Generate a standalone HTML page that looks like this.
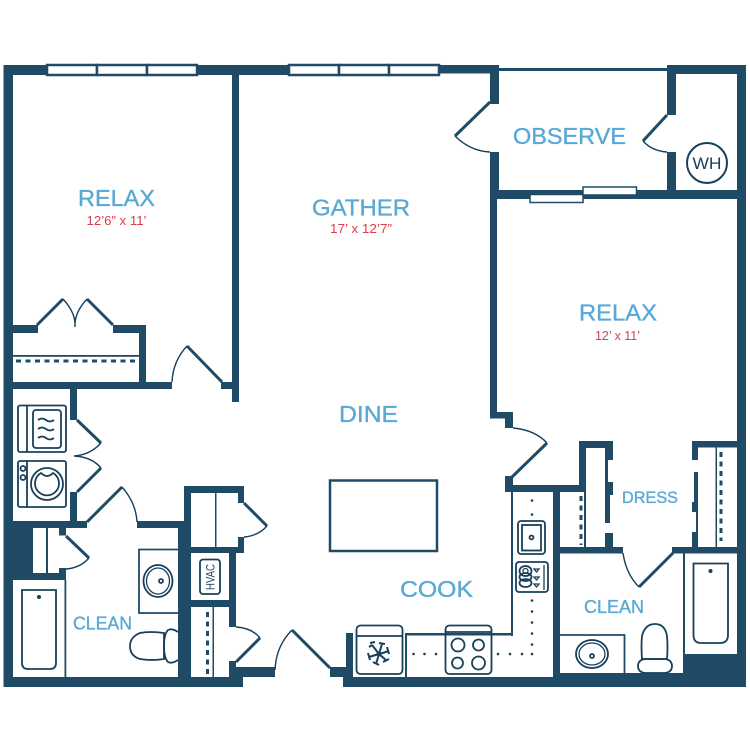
<!DOCTYPE html>
<html><head><meta charset="utf-8"><style>
html,body{margin:0;padding:0;background:#fff}
svg{display:block}
text{font-family:"Liberation Sans",sans-serif}
.w{fill:#1f4b66}
.t{fill:none;stroke:#17405a;stroke-width:1.4}
.f{fill:none;stroke:#17405a;stroke-width:1.8}
.leaf{fill:none;stroke:#1f4b66;stroke-width:3}
.b{fill:#58a9d6;font-size:23px;stroke:#58a9d6;stroke-width:.35}
.r{fill:#d5404f;font-size:13px}
.d{fill:#17405a}
</style></head><body>
<svg width="750" height="750" viewBox="0 0 750 750" xmlns="http://www.w3.org/2000/svg">
<rect width="750" height="750" fill="#fff"/>
<g class="w">
<!-- outer -->
<rect x="3.5" y="65" width="9.5" height="622"/>
<rect x="3.5" y="65" width="43" height="10"/>
<rect x="197" y="65" width="91" height="10"/>
<rect x="439" y="65" width="60" height="8.5"/>
<rect x="499" y="68" width="168" height="3"/>
<rect x="667" y="65" width="79" height="9"/>
<rect x="737" y="65" width="9" height="622"/>
<rect x="3.5" y="677" width="239.500" height="10"/>
<rect x="343" y="677" width="403" height="10"/>
<!-- bedroom 1 -->
<rect x="232" y="65" width="7" height="337"/>
<rect x="13" y="325" width="25" height="8"/>
<rect x="113" y="325" width="33" height="8"/>
<rect x="139" y="325" width="7" height="60"/>
<rect x="13" y="382" width="159" height="7"/>
<rect x="221" y="382" width="18" height="7"/>
<rect x="13" y="355" width="126" height="1.800"/>
<!-- laundry -->
<rect x="70" y="388" width="7" height="32"/>
<rect x="70" y="492" width="7" height="30"/>
<rect x="13" y="521" width="74" height="7"/>
<rect x="137" y="521" width="48" height="7"/>
<rect x="184" y="486" width="7" height="40"/>
<rect x="178" y="521" width="13" height="160"/>
<!-- bath 1 -->
<rect x="13" y="528" width="20" height="45"/>
<rect x="46" y="528" width="2" height="45"/>
<rect x="59" y="528" width="7" height="7.500"/>
<rect x="13" y="573" width="53" height="7"/>
<rect x="59" y="568" width="7" height="6"/>
<rect x="64.500" y="580" width="1.800" height="98"/>
<!-- closets -->
<rect x="184" y="486" width="60" height="7"/>
<rect x="238" y="486" width="6" height="17"/>
<rect x="238" y="537" width="6" height="16"/>
<rect x="184" y="547" width="60" height="6"/>
<rect x="215" y="493" width="1.500" height="54"/>
<rect x="229" y="553" width="7" height="74"/>
<rect x="191" y="600" width="45" height="7"/>
<rect x="212.500" y="607" width="1.500" height="70"/>
<rect x="229" y="661" width="7" height="16"/>
<rect x="229" y="667" width="46" height="10"/>
<rect x="330" y="667" width="23" height="10"/>
<rect x="346" y="633" width="7" height="44"/>
<!-- observe -->
<rect x="490" y="65" width="9" height="39"/>
<rect x="490" y="152" width="9" height="47"/>
<rect x="667" y="65" width="9" height="50"/>
<rect x="667" y="152" width="9" height="40"/>
<rect x="490" y="190" width="256" height="9"/>
<!-- bedroom 2 -->
<rect x="490" y="190" width="7" height="228"/>
<rect x="490" y="412" width="23" height="6.500"/>
<rect x="505" y="412" width="8" height="16"/>
<rect x="505" y="476" width="8" height="16"/>
<rect x="505" y="485" width="81" height="7"/>
<rect x="553" y="485" width="7" height="195"/>
<!-- kitchen -->
<rect x="511" y="490" width="2" height="146"/>
<rect x="405" y="633" width="108" height="2.500"/>
<rect x="405" y="633" width="2" height="45"/>
<!-- dress -->
<rect x="579" y="441" width="7" height="51"/>
<rect x="584" y="490" width="2" height="58"/>
<rect x="579" y="441" width="34" height="7"/>
<rect x="605" y="441" width="8" height="19"/>
<rect x="605" y="460" width="3" height="22"/>
<rect x="605" y="482" width="8" height="13"/>
<rect x="605" y="495" width="5" height="28"/>
<rect x="605" y="533" width="8" height="15"/>
<rect x="558" y="547" width="65" height="6.500"/>
<rect x="672" y="547" width="65" height="6.500"/>
<rect x="692" y="441" width="45" height="6.500"/>
<rect x="692" y="441" width="6" height="19"/>
<rect x="694" y="472" width="4" height="30"/>
<rect x="692" y="502" width="6" height="10"/>
<rect x="696" y="512" width="2" height="20"/>
<rect x="692" y="532" width="6" height="16"/>
<rect x="715.500" y="447" width="1.500" height="100"/>
<!-- bath 2 -->
<rect x="683" y="553" width="2" height="120"/>
<rect x="684" y="654" width="53" height="20"/>
<rect x="553" y="673" width="193" height="14"/>
</g>

<!-- windows -->
<g fill="#fff" stroke="#1f4b66" stroke-width="2.500">
<rect x="47" y="65" width="50" height="10"/><rect x="97" y="65" width="50" height="10"/><rect x="147" y="65" width="50" height="10"/>
<rect x="289" y="65" width="50" height="10"/><rect x="339" y="65" width="50" height="10"/><rect x="389" y="65" width="50" height="10"/>
</g>
<g fill="#fff" stroke="#1f4b66" stroke-width="1.500">
<rect x="530" y="194.500" width="53" height="8"/>
<rect x="583" y="187" width="53.500" height="8"/>
</g>

<!-- door leaves -->
<g class="leaf">
<path d="M37 325L63 299M113 325L87 299"/>
<path d="M187 346L222 382"/>
<path d="M77 420L101 443M101 468L77 492"/>
<path d="M87 522L122 487"/>
<path d="M66 536L89 558"/>
<path d="M244 503L267 526"/>
<path d="M260 638L236 662"/>
<path d="M292 630L330 668"/>
<path d="M490 102L455 136"/>
<path d="M667 115L643 141"/>
<path d="M547 443L512 477"/>
<path d="M639 587L673 553"/>
</g>
<!-- arcs -->
<g class="t">
<path d="M63 299Q76 313 75 327M87 299Q74 313 75 327"/>
<path d="M172 382Q173 361 187 346"/>
<path d="M101 443Q90 455 74 456M74 456Q92 457 101 468"/>
<path d="M122 487Q136 503 137 522"/>
<path d="M89 558Q80 568 66 569"/>
<path d="M267 526Q258 536 244 537"/>
<path d="M236 627Q252 628 260 638"/>
<path d="M275 670Q276 646 292 630"/>
<path d="M455 136Q470 151 490 152"/>
<path d="M643 141Q652 151 667 152"/>
<path d="M513 428Q535 430 547 443"/>
<path d="M623 553Q626 574 639 587"/>
</g>

<!-- closet rods -->
<g fill="none" stroke="#1f4b66" stroke-width="3" stroke-dasharray="5 4.500">
<path d="M16 361H137"/>
<path d="M207.500 612V676"/>
<path d="M581 496V545"/>
<path d="M721 452V541"/>
</g>

<!-- island -->
<rect x="330" y="480.500" width="107" height="70.500" fill="none" stroke="#1f4b66" stroke-width="2.500"/>

<!-- dryer -->
<g class="f">
<rect x="18" y="405.500" width="48" height="46.500" rx="2"/>
<path d="M27 405.500V452"/>
<rect x="33" y="410" width="28" height="38" rx="3"/>
</g>
<g class="f">
<path d="M38 420q4-3 8 0t8 0M38 429q4-3 8 0t8 0M38 438q4-3 8 0t8 0"/>
</g>
<!-- washer -->
<g class="f">
<rect x="18" y="461" width="48" height="46" rx="2"/>
<path d="M27 461V507"/>
<circle cx="23" cy="468.500" r="2.500"/><circle cx="23" cy="477.500" r="2.500"/>
<circle cx="47" cy="484" r="16"/>
<path d="M41 473A12 12 0 1 0 53 473Q47 479 41 473Z"/>
</g>

<!-- tub 1 -->
<g class="f">
<path d="M22 590H56V663Q56 669 50 669H28Q22 669 22 663Z"/>
</g>
<circle cx="39" cy="597" r="2" class="d"/>
<!-- vanity 1 -->
<path d="M178 549.500H139V613H178" fill="none" stroke="#1f4b66" stroke-width="1.800"/>
<g class="f">
<ellipse cx="158" cy="581" rx="14.500" ry="16"/>
<ellipse cx="158" cy="581" rx="11.500" ry="13" stroke-width="1.300"/>
<circle cx="161" cy="581" r="2"/>
<path d="M164 633Q150 631 140 633Q130 637 130 646Q130 656 140 659Q152 661 164 659Z"/>
<path d="M178 632Q172 628 168 630Q164 634 164 646Q164 658 168 662Q172 664 178 660"/>
</g>

<!-- HVAC -->
<rect x="200" y="559.500" width="20" height="34.500" rx="3" fill="none" stroke="#17405a" stroke-width="1.800"/>
<text transform="translate(214.500,590) rotate(-90)" font-size="11.500" fill="#17405a" textLength="26" lengthAdjust="spacingAndGlyphs">HVAC</text>

<!-- fridge -->
<g class="f">
<rect x="356.500" y="625.500" width="46" height="48.500" rx="4"/>
<path d="M356.500 636H402.500"/>
</g>
<g fill="none" stroke="#17405a" stroke-width="2">
<path d="M379 654L372 645M370 643l5-1M369 647l3-2"/>
<path d="M379 654L382 644M379 643l6 1"/>
<path d="M379 654L389 651M387 647l2 7"/>
<path d="M379 654L387 661M383 662l6-3"/>
<path d="M379 654L376 664M373 662l6 3"/>
<path d="M379 654L369 657M368 653l2 7"/>
</g>
<circle cx="379" cy="654" r="2.500" class="d"/>

<!-- range -->
<g class="f">
<rect x="445.500" y="625.500" width="46" height="48.500" rx="4"/>
<path d="M445.500 632H491.500"/>
<circle cx="458" cy="645" r="6.500"/><circle cx="478.500" cy="645" r="5.500"/>
<circle cx="457.500" cy="663" r="5.500"/><circle cx="478.500" cy="663" r="6.500"/>
</g>

<!-- counter dots -->
<g class="d">
<circle cx="413.500" cy="654" r="1.300"/><circle cx="424.500" cy="654" r="1.300"/><circle cx="436" cy="654" r="1.300"/>
<circle cx="498" cy="654" r="1.300"/><circle cx="510" cy="654" r="1.300"/><circle cx="522" cy="654" r="1.300"/><circle cx="532" cy="654" r="1.300"/>
<circle cx="532" cy="500.500" r="1.300"/><circle cx="532" cy="514.500" r="1.300"/>
<circle cx="532" cy="600.500" r="1.300"/><circle cx="532" cy="611.500" r="1.300"/><circle cx="532" cy="622.500" r="1.300"/><circle cx="532" cy="633.500" r="1.300"/><circle cx="532" cy="644.500" r="1.300"/>
</g>
<!-- sink -->
<g class="f">
<rect x="518" y="521" width="27" height="33" rx="3"/>
<rect x="522" y="525" width="19" height="25.500"/>
<circle cx="531.500" cy="537.500" r="2"/>
<!-- dishwasher -->
<rect x="516" y="562" width="32" height="30" rx="3"/>
<ellipse cx="525.500" cy="577" rx="6" ry="4"/>
<ellipse cx="525.500" cy="583" rx="6" ry="4"/>
<ellipse cx="525.500" cy="571" rx="6" ry="5"/>
<circle cx="525.500" cy="571" r="2.500" stroke-width="1.300"/>
<path d="M534 569h5l-2.500 3zM534 577h5l-2.500 3zM534 584h5l-2.500 3z" stroke-width="1.300"/>
<path d="M544 565V590" stroke-width="1.300"/>
</g>

<!-- WH -->
<circle cx="707" cy="163" r="20" fill="none" stroke="#17405a" stroke-width="2"/>
<text x="707" y="169" font-size="17" text-anchor="middle" fill="#17405a" textLength="29" lengthAdjust="spacingAndGlyphs">WH</text>

<!-- tub 2 -->
<path d="M693.500 563.500H728V635Q728 643 720 643H701Q693.500 643 693.500 635Z" class="f"/>
<circle cx="710.500" cy="571" r="2" class="d"/>
<!-- vanity 2 -->
<path d="M560 635H624.500V673" fill="none" stroke="#1f4b66" stroke-width="1.800"/>
<g class="f">
<ellipse cx="592" cy="654" rx="16" ry="14"/>
<ellipse cx="592" cy="654" rx="13" ry="11" stroke-width="1.300"/>
<circle cx="592" cy="656" r="2"/>
<!-- toilet 2 -->
<path d="M642 659Q641 646 642 636Q645 624 655 624Q665 624 667 636Q668 648 667 659Z"/>
<path d="M645 659H665Q672 660 672 666Q672 672 665 673H645Q638 672 638 666Q638 660 645 659Z"/>
</g>

<!-- labels -->
<g class="b">
<text x="78" y="206" textLength="77" lengthAdjust="spacingAndGlyphs">RELAX</text>
<text x="312" y="215.500" textLength="98" lengthAdjust="spacingAndGlyphs">GATHER</text>
<text x="513" y="144" textLength="113" lengthAdjust="spacingAndGlyphs">OBSERVE</text>
<text x="579" y="320.500" textLength="78" lengthAdjust="spacingAndGlyphs">RELAX</text>
<text x="339" y="422" textLength="59" lengthAdjust="spacingAndGlyphs">DINE</text>
<text x="400" y="597" textLength="73" lengthAdjust="spacingAndGlyphs">COOK</text>
<text x="73" y="629.500" textLength="59" lengthAdjust="spacingAndGlyphs" style="font-size:18px">CLEAN</text>
<text x="584" y="613" textLength="60" lengthAdjust="spacingAndGlyphs" style="font-size:18px">CLEAN</text>
<text x="622" y="503" textLength="56" lengthAdjust="spacingAndGlyphs" style="font-size:17px">DRESS</text>
</g>
<g class="r">
<text x="86.500" y="225" textLength="60" lengthAdjust="spacingAndGlyphs">12’6” x 11’</text>
<text x="330" y="233" textLength="62" lengthAdjust="spacingAndGlyphs">17’ x 12’7”</text>
<text x="595" y="340" textLength="45" lengthAdjust="spacingAndGlyphs">12’ x 11’</text>
</g>
</svg>
</body></html>
